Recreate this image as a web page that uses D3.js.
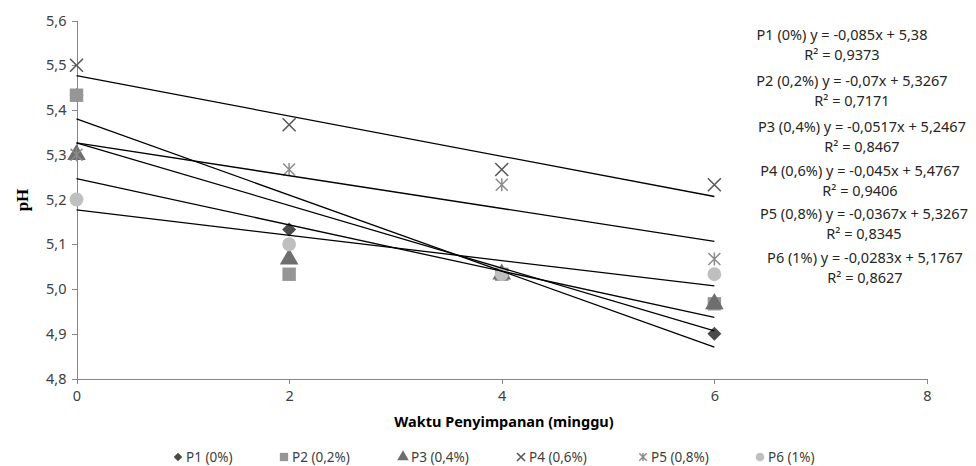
<!DOCTYPE html>
<meta charset="utf-8">
<style>
body { margin: 0; background: #fff; }
text { font-family: "Noto Sans", sans-serif; fill: #404040; }
.axis path, .axis line { stroke: #868686; shape-rendering: crispEdges; }
</style>
<body>
<script src="https://d3js.org/d3.v7.min.js"></script>
<script>

// storage week (x) and pH per treatment
var weeks = [0, 2, 4, 6];
var seriesNames = ["P1 (0%)", "P2 (0,2%)", "P3 (0,4%)", "P4 (0,6%)", "P5 (0,8%)", "P6 (1%)"];
var p1 = [5.433, 5.133, 5.033, 4.9];
var p2 = [5.433, 5.033, 5.033, 4.967];
var p3 = [5.3, 5.067, 5.033, 4.967];
var p4 = [5.5, 5.367, 5.267, 5.233];
var p5 = [5.3, 5.267, 5.233, 5.067];
var p6 = [5.2, 5.1, 5.033, 5.033];

// trendline labels
var slopes = [-0.085, -0.07, -0.0517, -0.045, -0.0367, -0.0283];
var intercepts = [5.38, 5.3267, 5.2467, 5.4767, 5.3267, 5.1767];
var eqLabels = ["P1 (0%) y = -0,085x + 5,38", "P2 (0,2%) y = -0,07x + 5,3267",
                "P3 (0,4%) y = -0,0517x + 5,2467", "P4 (0,6%) y = -0,045x + 5,4767",
                "P5 (0,8%) y = -0,0367x + 5,3267", "P6 (1%) y = -0,0283x + 5,1767"];
var r2Labels = ["R² = 0,9373", "R² = 0,7171", "R² = 0,8467", "R² = 0,9406", "R² = 0,8345", "R² = 0,8627"];

var xTicks = [0, 2, 4, 6, 8];
var yTicks = [4.8, 4.9, 5.0, 5.1, 5.2, 5.3, 5.4, 5.5, 5.6];

var allSeries = [p1, p2, p3, p4, p5, p6];
var shapes = ["diamond", "square", "triangle", "cross", "star", "circle"];
var colors = ["#4a4a4a", "#969696", "#6e6e6e", "#595959", "#8c8c8c", "#bfbfbf"];

var width = 976, height = 466;
var svg = d3.select("body").append("svg")
  .attr("width", width)
  .attr("height", height);

var x = d3.scaleLinear().domain([0, 8]).range([76.5, 927]);
var y = d3.scaleLinear().domain([4.8, 5.6]).range([378.5, 20.5]);

// axes
var yAxis = svg.append("g")
  .attr("class", "axis")
  .attr("transform", "translate(" + x(0) + ",0)")
  .call(d3.axisLeft(y).tickValues(yTicks).tickSize(5).tickSizeOuter(0)
    .tickFormat(function(d) { return d3.format(".1f")(d).replace(".", ","); }));
yAxis.selectAll("text").style("font-size", "14.5px").attr("x", -10);

var xAxis = svg.append("g")
  .attr("class", "axis")
  .attr("transform", "translate(0," + y(4.8) + ")")
  .call(d3.axisBottom(x).tickValues(xTicks).tickSize(5).tickSizeOuter(0));
xAxis.selectAll("text").style("font-size", "14.5px").attr("y", 12);

// axis titles
svg.append("text")
  .attr("transform", "translate(28,200) rotate(-90)")
  .attr("text-anchor", "middle")
  .style("font-family", "'Liberation Serif', serif")
  .style("font-weight", "bold")
  .style("font-size", "17px")
  .style("fill", "#000")
  .text("pH");

svg.append("text")
  .attr("x", 504)
  .attr("y", 427)
  .attr("text-anchor", "middle")
  .style("font-weight", "bold")
  .style("font-size", "14.5px")
  .style("fill", "#000")
  .text("Waktu Penyimpanan (minggu)");

// marker drawing
function drawMarker(g, shape, color, scale) {
  var s = scale || 1;
  if (shape === "cross") {
    var a = 6.5 * s;
    g.append("path")
      .attr("d", "M" + (-a) + "," + (-a) + "L" + a + "," + a + "M" + (-a) + "," + a + "L" + a + "," + (-a))
      .attr("stroke", color).attr("stroke-width", 1.6).attr("fill", "none");
  } else if (shape === "star") {
    var b = 6 * s;
    g.append("path")
      .attr("d", "M" + (-b) + "," + (-b) + "L" + b + "," + b + "M" + (-b) + "," + b + "L" + b + "," + (-b) +
                 "M0," + (-b * 1.1) + "L0," + (b * 1.1))
      .attr("stroke", color).attr("stroke-width", 1.5).attr("fill", "none");
  } else if (shape === "diamond") {
    var c = 7 * s;
    g.append("path")
      .attr("d", "M0," + (-c) + "L" + c + ",0L0," + c + "L" + (-c) + ",0Z")
      .attr("fill", color);
  } else {
    var sym = { square: d3.symbolSquare, triangle: d3.symbolTriangle, circle: d3.symbolCircle }[shape];
    var size = { square: 180, triangle: 150, circle: 150 }[shape] * s * s;
    g.append("path")
      .attr("d", d3.symbol().type(sym).size(size)())
      .attr("fill", color);
  }
}

// points
allSeries.forEach(function(vals, i) {
  vals.forEach(function(v, j) {
    var g = svg.append("g").attr("transform", "translate(" + x(weeks[j]) + "," + y(v) + ")");
    drawMarker(g, shapes[i], colors[i]);
  });
});

// trendlines
slopes.forEach(function(m, i) {
  svg.append("line")
    .attr("x1", x(0)).attr("y1", y(intercepts[i]))
    .attr("x2", x(6)).attr("y2", y(intercepts[i] + m * 6))
    .attr("stroke", "#000")
    .attr("stroke-width", 1.3);
});

// trendline equations
var eqY = [35, 81, 127, 171, 214, 258];
var eqX = [842, 852, 862, 860, 864, 865];
eqLabels.forEach(function(t, i) {
  svg.append("text").attr("x", eqX[i]).attr("y", eqY[i]).attr("dy", "0.35em")
    .attr("text-anchor", "middle").style("font-size", "14.5px").style("fill", "#262626").text(t);
  svg.append("text").attr("x", eqX[i]).attr("y", eqY[i] + 20).attr("dy", "0.35em")
    .attr("text-anchor", "middle").style("font-size", "14.5px").style("fill", "#262626").text(r2Labels[i]);
});

// legend
var legX = [178, 284, 403, 521, 643, 760];
seriesNames.forEach(function(name, i) {
  var g = svg.append("g").attr("transform", "translate(" + legX[i] + ",457)");
  drawMarker(g, shapes[i], colors[i], 0.62);
  g.append("text").attr("x", 8).attr("dy", "0.35em")
    .style("font-size", "13.5px").text(name);
});

</script>
</body>
